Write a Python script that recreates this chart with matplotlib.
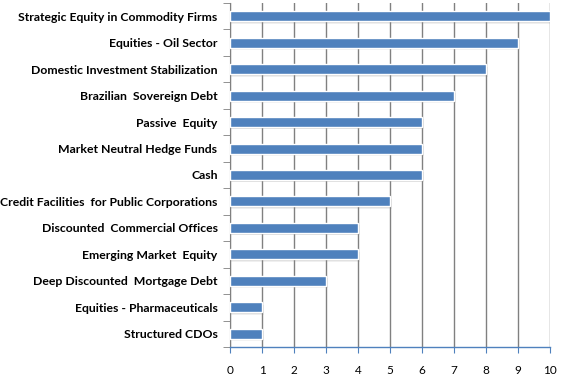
import numpy as np
import matplotlib.pyplot as plt

categories = ["Strategic Equity in Commodity Firms", "Equities - Oil Sector",
              "Domestic Investment Stabilization", "Brazilian  Sovereign Debt",
              "Passive  Equity", "Market Neutral Hedge Funds", "Cash",
              "Credit Facilities  for Public Corporations",
              "Discounted  Commercial Offices", "Emerging Market  Equity",
              "Deep Discounted  Mortgage Debt", "Equities - Pharmaceuticals",
              "Structured CDOs"]
values = [10, 9, 8, 7, 6, 6, 6, 5, 4, 4, 3, 1, 1]
xticks = list(range(0, 11))

fig = plt.figure(figsize=(5.64, 3.9), dpi=100)
ax = fig.add_axes([230/564, 1 - 347/390, 320/564, 344/390])

n = len(categories)
y = np.arange(n)[::-1]
h = 0.38

# soft shadow
for off, a in [(0.09, 0.12), (0.06, 0.18), (0.03, 0.25)]:
    ax.barh(y - off, np.array(values) + off * 0.6, height=h, left=0,
            color="#808080", alpha=a, zorder=2, linewidth=0)
ax.barh(y, values, height=h, color="#4F81BD", edgecolor="white",
        linewidth=1.0, zorder=3)

ax.set_xlim(0, 10)
ax.set_ylim(-0.5, n - 0.5)
ax.set_xticks(xticks)
ax.set_xticklabels([str(t) for t in xticks], fontsize=8.5, family="Lato")
ax.xaxis.grid(True, color="#808080", linewidth=1.0, zorder=0)
ax.set_axisbelow(True)

ax.set_yticks(y)
ax.set_yticklabels(categories, fontsize=8.8, fontweight="bold", family="Lato")
ax.set_yticks(np.arange(-0.5, n, 1.0), minor=True)
ax.tick_params(axis="y", which="major", length=0, pad=9)
ax.tick_params(axis="y", which="minor", length=5, color="#808080")
ax.tick_params(axis="x", length=4, color="#4F81BD", pad=9)

for s in ["top", "right"]:
    ax.spines[s].set_visible(False)
ax.spines["left"].set_color("#808080")
ax.spines["bottom"].set_color("#4F81BD")
ax.spines["bottom"].set_linewidth(1.0)

fig.savefig("out.png", dpi=100)
